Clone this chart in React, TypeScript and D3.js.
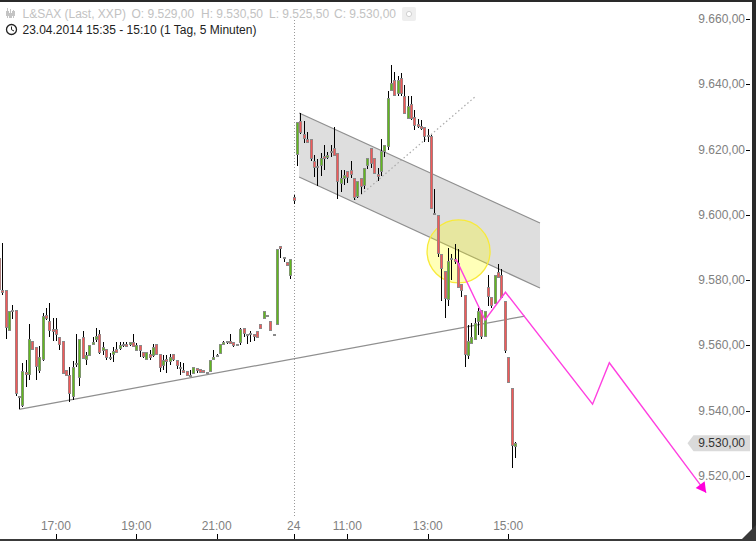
import React from "react";
import * as d3 from "d3";

const firstSlot = -1;
const opens = [
  9586.7,9577,9577,9564.3,9570.9,9570.9,9544.5,9541.3,9551.8,9550.8,
  9561.3,9559.5,9552.3,9555.6,9569.4,9567.5,9565.1,9565,9562.5,9561.3,
  9552.5,9551,9544.3,9554.5,9550,9562.7,9555.4,9556.9,9560.2,9561.7,
  9563.4,9558.4,9558.9,9556.4,9557,9558.9,9558.9,9560.3,9560.4,9560,
  9561.1,9558.4,9560.2,9557.9,9555.4,9557.4,9556.8,9560.4,9557.3,9553.8,
  9555.8,9554.8,9557.3,9555.6,9553.3,9552.5,9552.3,9550.9,9551.3,9553,
  9552.8,9552.5,9551.8,9552,9555.6,9557.1,9557.3,9560.2,9561.3,9561.3,
  9561.1,9560.4,9560.7,9565.3,9563.4,9563.9,9563.5,9564.3,9566.6,9568.1,
  9569.3,9567.5,9563.4,9566.3,9590.5,9587.2,9585.5,9581.4,9605.6,9618.4,
  9628.6,9624.7,9623.2,9623.2,9616.5,9615.1,9615.1,9618,9617.3,9619.7,
  9620.4,9618.9,9609.5,9610.9,9613.4,9613.8,9611.2,9605.6,9611.2,9608.7,
  9615,9620.4,9617.3,9612.5,9613,9619.2,9620.7,9637.8,9641.4,9637.1,
  9641.9,9636.5,9629.3,9633.9,9629.9,9627.8,9627.3,9626.8,9624.5,9624.3,
  9600.7,9600,9587.9,9582.8,9573.9,9586.9,9586.4,9585.4,9578.7,9575.5,
  9556.8,9560.4,9561.7,9567.3,9570.9,9562.5,9578,9574.8,9572.7,9582.4,
  9581.6,9573.7,9556.5,9546.9,9529,
];
const closes = [
  9577,9576.2,9565.2,9570.6,9570.4,9545.2,9544.4,9552.3,9550.8,9561.9,
  9558.6,9553.3,9556.4,9569,9568,9564.3,9564.1,9563.2,9560.2,9551.3,
  9550.5,9545.2,9553.3,9554.3,9561.9,9555.8,9557.1,9560.2,9561.2,9562.9,
  9557.8,9559.5,9556.2,9555.8,9558.4,9557.8,9560.2,9559.9,9559.4,9561.1,
  9559.5,9560.2,9558.4,9556.4,9557.9,9556.1,9559.5,9557.1,9553.2,9555.6,
  9554.8,9556.4,9555.6,9553.8,9552.9,9551.7,9550.5,9550.5,9553.3,9552.2,
  9551.7,9551.5,9551.6,9555.6,9556.6,9557,9560.4,9561,9560.9,9560.5,
  9559.9,9560.3,9565.1,9563.4,9562.9,9563.3,9562.7,9562.4,9565.1,9570.6,
  9569.2,9564.3,9563.3,9589.5,9589.5,9587.1,9584.2,9586.4,9604.3,9628.3,
  9625.2,9623.2,9621.9,9617,9614.3,9614.3,9617.3,9617.2,9618.4,9619.4,
  9618,9610.2,9611.2,9612.2,9611.2,9612.2,9605.1,9610.4,9608.5,9614.3,
  9617.3,9615.6,9612.5,9611.7,9619.7,9621.4,9635.8,9640.4,9636.3,9641.4,
  9637.1,9630.9,9633.2,9629.3,9627.1,9626.8,9626.3,9623.8,9623.8,9601.7,
  9600.1,9588,9583.3,9574.2,9585.8,9586.3,9585.6,9577.5,9576.7,9557.1,
  9561.4,9562.5,9566.8,9570.6,9562.5,9570.6,9574.7,9572.1,9581.6,9580.6,
  9574.5,9558.4,9548.5,9529.3,9530,
];
const highs = [
  9586.7,9591.3,9577,9570.6,9572.4,9570.9,9544.6,9554.6,9555.6,9566.5,
  9561.3,9559.5,9559.7,9569.9,9571.4,9573,9568.3,9568.3,9562.5,9561.3,
  9552.5,9553.5,9555.1,9563.5,9561.9,9564.5,9558.1,9560.2,9562.7,9565.3,
  9564.8,9560.9,9558.9,9557.6,9559.5,9560.9,9560.9,9560.9,9561.2,9561.2,
  9563.5,9560.7,9560.2,9558.1,9558.1,9558.6,9560.5,9560.4,9557.3,9557.1,
  9557.1,9557.3,9557.3,9555.6,9554.8,9554.6,9552.3,9552.5,9553.3,9553,
  9552.8,9552.5,9551.8,9555.6,9558.6,9557.4,9560.4,9561.5,9561.3,9563.5,
  9561.1,9560.4,9565.3,9565.3,9563.4,9564.3,9563.5,9564.3,9566.6,9570.6,
  9569.3,9567.5,9563.4,9589.5,9590.5,9587.2,9585.5,9586.4,9606,9628.3,
  9631.1,9628.6,9625.5,9623.2,9618.4,9617,9618.9,9621.4,9619.4,9621.4,
  9626.8,9618.9,9613.8,9613.6,9613.4,9616.6,9611.2,9610.4,9611.2,9614.3,
  9617.3,9620.4,9617.3,9614.3,9623.2,9621.4,9638,9646,9643.9,9642.4,
  9643.4,9639.8,9636.5,9636.5,9632.2,9629.3,9629.1,9626.8,9626.3,9624.5,
  9607.9,9600,9587.9,9582.8,9589.7,9587.9,9591.2,9589.5,9578.7,9575.5,
  9566.3,9566.8,9568.3,9571.4,9570.9,9570.6,9581.6,9574.8,9581.6,9585,
  9583.4,9573.7,9556.5,9546.9,9530.5,
];
const lows = [
  9577,9575.5,9562,9564.3,9568.1,9544.4,9540.6,9541,9547.4,9549.5,
  9558.6,9549.5,9551.5,9555.1,9567.8,9562.7,9561.5,9561.5,9558.6,9551.3,
  9550.5,9542.8,9543.3,9553.5,9547.7,9555.8,9554,9556.9,9560.2,9561.2,
  9557.4,9557.1,9555.6,9555.6,9554.8,9557.6,9558.6,9559.5,9559.4,9559.7,
  9559.4,9558.4,9556.6,9556,9555.4,9555.6,9556.6,9557.1,9552,9552.5,
  9551.7,9554,9555.1,9552.8,9550.8,9551.7,9550.5,9550.5,9551.3,9551.5,
  9551.7,9551.5,9551.6,9552,9555.6,9556.6,9557.3,9560.2,9560.5,9560.5,
  9559.6,9560.3,9560.2,9562.5,9560.5,9560.9,9561.5,9562.4,9565.1,9568.1,
  9569.2,9564.3,9563.3,9566.3,9586.7,9585.7,9584.2,9580.4,9603.3,9615.1,
  9624.7,9622.1,9621.9,9616.5,9611.5,9608.7,9611.9,9613.6,9617,9617.8,
  9618,9604.9,9607.1,9609.2,9609.9,9611.2,9604.6,9605.1,9606.3,9607.8,
  9614,9614.3,9612.5,9610.4,9611.9,9617.6,9619.9,9637.8,9636.3,9636.3,
  9636.5,9630.9,9629.3,9629.1,9626,9626.6,9626,9622.2,9622.2,9601.7,
  9600.1,9587,9573.6,9568.3,9572.2,9580,9585,9577.5,9574.9,9553.5,
  9555.9,9560.4,9561.7,9563.2,9562,9562.5,9572.1,9571.6,9572.7,9580.6,
  9574.5,9557.6,9548.5,9522.4,9525.5,
];

const priceTicks = [9660, 9640, 9620, 9600, 9580, 9560, 9540, 9520];
const timeTicks = [
  { slot: 16, label: "17:00" },
  { slot: 40, label: "19:00" },
  { slot: 64, label: "21:00" },
  { slot: 87, label: "24" },
  { slot: 103, label: "11:00" },
  { slot: 127, label: "13:00" },
  { slot: 151, label: "15:00" },
];
const daySeparatorSlot = 87;
const lastPrice = 9530;

// Drawings, in (slot, price)
const trendSupport: [number, number][] = [[5, 9540.4], [156, 9569]];
const channelTop: [number, number][] = [[88.6, 9631.2], [160.5, 9597.5]];
const channelBottom: [number, number][] = [[88.6, 9611.6], [160.5, 9577.6]];
const dottedTrend: [number, number][] = [[105.3, 9604.6], [141.4, 9636.4]];
const circleCentre: [number, number] = [136.2, 9588.8];
const forecast: [number, number][] = [
  [135.4, 9586.5], [144.1, 9567.8], [150.2, 9576.3],
  [176.2, 9542], [181.2, 9554.7], [210.1, 9514.9],
];

const headerQuote = [
  { x: 22.5, t: "L&SAX (Last, XXP)" },
  { x: 131.5, t: "O: 9.529,00" },
  { x: 201, t: "H: 9.530,50" },
  { x: 269, t: "L: 9.525,50" },
  { x: 334, t: "C: 9.530,00" },
];
const headerRange = "23.04.2014 15:35 - 15:10 (1 Tag, 5 Minuten)";

const W = 756, H = 541;
const FONT = "'Liberation Sans', Arial, sans-serif";
const GREY = "#808080";
const BODY = "#8a8a8a";
const UP = "#62b81f";
const DOWN = "#f25a5a";

const x = d3.scaleLinear().domain([0, 153]).range([2.3, 514.85]);
const y = d3.scaleLinear().domain([9520, 9660]).range([476, 19]);
const line = d3.line<[number, number]>().x(d => x(d[0])).y(d => y(d[1]));
const fmt = (v: number) => d3.format(",.2f")(v).replace(/,/g, "#").replace(".", ",").replace(/#/g, ".");

export default function App() {
  const channel = [...channelTop, ...[...channelBottom].reverse()] as [number, number][];
  const [a, b] = forecast.slice(-2);
  const ax = x(a[0]), ay = y(a[1]), bx = x(b[0]), by = y(b[1]);
  const len = Math.hypot(bx - ax, by - ay);
  const ux = (bx - ax) / len, uy = (by - ay) / len;
  const head = [
    [bx, by],
    [bx - ux * 10 - uy * 5.6, by - uy * 10 + ux * 5.6],
    [bx - ux * 10 + uy * 5.6, by - uy * 10 - ux * 5.6],
  ].map(p => p.join(",")).join(" ");

  return (
    <svg width={W} height={H} style={{ position: "fixed", left: 0, top: 0, background: "#fff" }}>
      <rect width={W} height={H} fill="#fff" />

      {/* channel */}
      <path d={line(channel)! + "Z"} fill="#dedede" stroke="none" />
      <path d={line(channelTop)!} stroke="#8f8f8f" strokeWidth={1.2} fill="none" />
      <path d={line(channelBottom)!} stroke="#8f8f8f" strokeWidth={1.2} fill="none" />

      {/* support + dotted */}
      <path d={line(trendSupport)!} stroke="#8f8f8f" strokeWidth={1.2} fill="none" />
      <path d={line(dottedTrend)!} stroke="#aaa" strokeWidth={1.2} strokeDasharray="1.5 2.5" fill="none" />
      <line x1={Math.round(x(daySeparatorSlot)) + 0.5} x2={Math.round(x(daySeparatorSlot)) + 0.5} y1={20} y2={516}
        stroke="#999" strokeDasharray="1 2" />

      {/* circle */}
      <circle cx={x(circleCentre[0])} cy={y(circleCentre[1])} r={31.5}
        fill="#ffff00" fillOpacity={0.28} stroke="#f8ea3a" strokeWidth={1.3} />

      {/* candles */}
      {opens.map((o, i) => {
        const c = closes[i];
        const cx = Math.round(x(i + firstSlot));
        const top = Math.round(y(Math.max(o, c)));
        const bot = Math.round(y(Math.min(o, c)));
        const h = Math.max(bot - top, 2);
        const col = c > o ? UP : DOWN;
        return (
          <g key={i}>
            <line x1={cx + 0.5} x2={cx + 0.5} y1={y(highs[i])} y2={y(lows[i])} stroke="#000" shapeRendering="crispEdges" />
            <rect x={cx - 1} y={top} width={3} height={h} fill={BODY} shapeRendering="crispEdges" />
            {h > 2 && <rect x={cx - 0.3} y={top + 1} width={1.6} height={h - 2} fill={col} />}
          </g>
        );
      })}

      {/* forecast */}
      <path d={line(forecast)!} fill="none" stroke="#ff3fe0" strokeWidth={1.4} />
      <polygon points={head} fill="#ff00dc" />

      {/* price axis */}
      {priceTicks.map(p => (
        <g key={p}>
          <text x={745} y={y(p) + 4} textAnchor="end" fontFamily={FONT} fontSize={12} fill={GREY}>{fmt(p)}</text>
          <line x1={746} x2={750} y1={Math.round(y(p)) + 0.5} y2={Math.round(y(p)) + 0.5} stroke="#000" />
        </g>
      ))}
      <polygon
        points={[[687.5, y(lastPrice)], [693.5, y(lastPrice) - 8], [750, y(lastPrice) - 8], [750, y(lastPrice) + 8], [693.5, y(lastPrice) + 8]].map(p => p.join(",")).join(" ")}
        fill="#dadada"
      />
      <text x={745} y={y(lastPrice) + 4} textAnchor="end" fontFamily={FONT} fontSize={12} fill="#333">{fmt(lastPrice)}</text>

      {/* time axis */}
      {timeTicks.map(t => (
        <g key={t.label}>
          <text x={x(t.slot)} y={530} textAnchor="middle" fontFamily={FONT} fontSize={12} fill={GREY}>{t.label}</text>
          <line x1={Math.round(x(t.slot)) + 0.5} x2={Math.round(x(t.slot)) + 0.5} y1={534} y2={539} stroke="#000" />
        </g>
      ))}

      {/* header */}
      <g stroke="#c4c4c4" fill="none" shapeRendering="crispEdges">
        {[7, 10, 13].map((ix, k) => (
          <g key={ix}>
            <line x1={ix + 0.5} x2={ix + 0.5} y1={8 + k} y2={18} />
            <rect x={ix - 0.5} y={11 + (k % 2) * 2} width={2} height={4} />
          </g>
        ))}
      </g>
      {headerQuote.map(h => (
        <text key={h.x} x={h.x} y={18} fontFamily={FONT} fontSize={12} fill="#c2c2c2">{h.t}</text>
      ))}
      <rect x={402} y={7} width={14} height={14} rx={2} fill="#eeeeee" />
      <circle cx={409} cy={14} r={2.6} fill="#fff" stroke="#d0d0d0" />
      <circle cx={11.5} cy={29.5} r={5} fill="none" stroke="#222" strokeWidth={1.3} />
      <path d="M11.5 26.5V29.7L14 31" fill="none" stroke="#222" strokeWidth={1} />
      <text x={22.5} y={34} fontFamily={FONT} fontSize={12} fill="#222">{headerRange}</text>

      {/* window frame */}
      <rect x={0} y={0} width={W} height={2} fill="#2a2a2a" />
      <rect x={752} y={0} width={4} height={H} fill="#2a2a2a" />
      <rect x={0} y={539} width={W} height={2} fill="#3a3a3a" />
      <polygon points={`740,541 756,525 756,541`} fill="#3a3a3a" />
    </svg>
  );
}
